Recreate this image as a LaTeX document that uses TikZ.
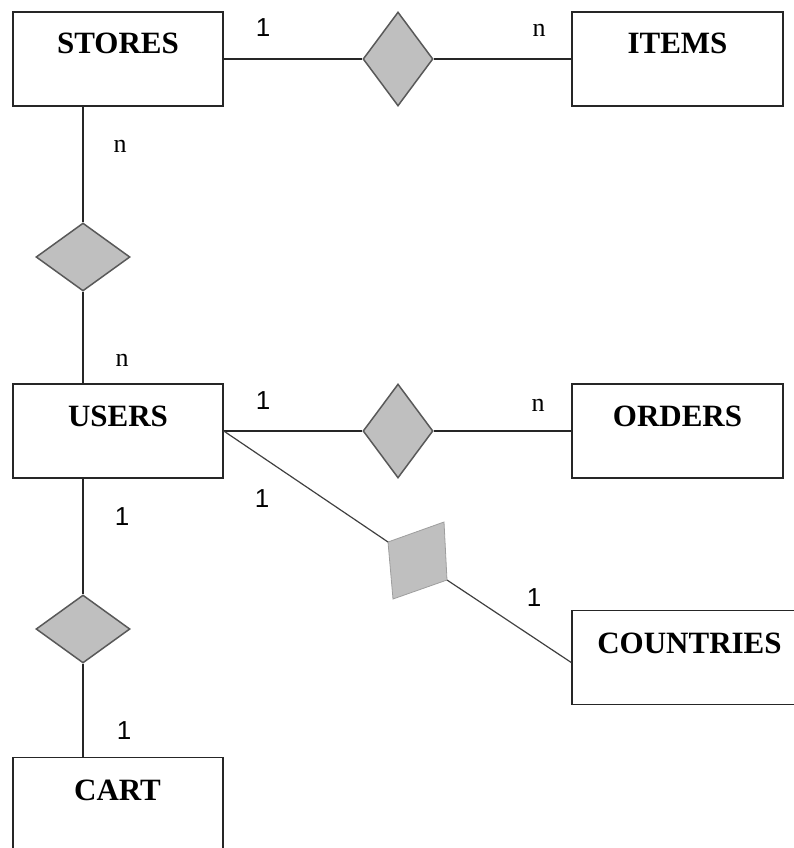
\documentclass[tikz,border=0pt]{standalone}
\usepackage{fontspec}
\setmainfont{Liberation Serif}
\newfontfamily\cardsans{Liberation Sans}
\usetikzlibrary{shapes.geometric}
\begin{document}
\begin{tikzpicture}[x=1pt,y=-1pt,
  entity/.style={draw=black!85, line width=1.5pt, fill=white,
    minimum width=210pt, minimum height=94pt, inner sep=0pt},
  entname/.style={font=\fontsize{31}{31}\selectfont\bfseries, inner sep=0pt, anchor=base},
  rel/.style={diamond, draw=black!65, fill=black!25, line width=1.5pt, inner sep=0pt},
  relh/.style={rel, minimum width=70pt, minimum height=94pt},
  relv/.style={rel, minimum width=94pt, minimum height=68pt},
  link/.style={draw=black!85, line width=1.5pt},
  card/.style={inner sep=0pt, anchor=base, font=\fontsize{26}{26}\selectfont},
  cardone/.style={card, font=\cardsans\fontsize{26}{26}\selectfont},
]
\useasboundingbox (0,0) rectangle (794,848);

% entities
\node[entity] (stores) at (118,59) {};
\node[entname] (storesname) at (118,54) {STORES};
\node[entity, minimum width=211pt] (items) at (677.5,59) {};
\node[entname] (itemsname) at (677.5,54) {ITEMS};
\node[entity] (users) at (118,431) {};
\node[entname] (usersname) at (118,426) {USERS};
\node[entity, minimum width=211pt] (orders) at (677.5,431) {};
\node[entname] (ordersname) at (677.5,426) {ORDERS};
\node[entity, minimum width=235pt] (countries) at (689.5,657.5) {};
\node[entname] (countriesname) at (689.5,653) {COUNTRIES};
\node[entity] (cart) at (118,804.5) {};
\node[entname] (cartname) at (117.5,800) {CART};

% relationships
\node[relh] (stocks) at (398,59) {};
\node[relv] (works) at (83,257) {};
\node[relh] (places) at (398,431) {};
\node[relv] (owns) at (83,629) {};
\coordinate (livesinw) at (388,542);
\coordinate (livesine) at (447,580);
\filldraw[fill=black!25, draw=black!38, line width=0.8pt]
  (livesinw) -- (444,522) -- (livesine) -- (393,599) -- cycle;

% connectors
\draw[link] (stores.east) -- (stocks.west);
\draw[link] (stocks.east) -- (items.west);
\draw[link] (stores.south -| works) -- (works.north);
\draw[link] (works.south) -- (users.north -| works);
\draw[link] (users.east) -- (places.west);
\draw[link] (places.east) -- (orders.west);
\draw[link] (users.south -| owns) -- (owns.north);
\draw[link] (owns.south) -- (cart.north -| owns);
\draw[link, line width=1.2pt, draw=black!75] (users.east) -- (livesinw);
\draw[link, line width=1.2pt, draw=black!75] (livesine) -- ([yshift=-5pt]countries.west);

% cardinalities
\node[cardone] (c1) at (263,37) {1};
\node[card] (c2) at (539,37) {n};
\node[card] (c3) at (120,152) {n};
\node[card] (c4) at (122,366) {n};
\node[cardone] (c5) at (263,409) {1};
\node[card] (c6) at (538,411) {n};
\node[cardone] (c7) at (262,507) {1};
\node[cardone] (c8) at (534,606) {1};
\node[cardone] (c9) at (122,525) {1};
\node[cardone] (c10) at (124,739) {1};
\end{tikzpicture}
\end{document}
